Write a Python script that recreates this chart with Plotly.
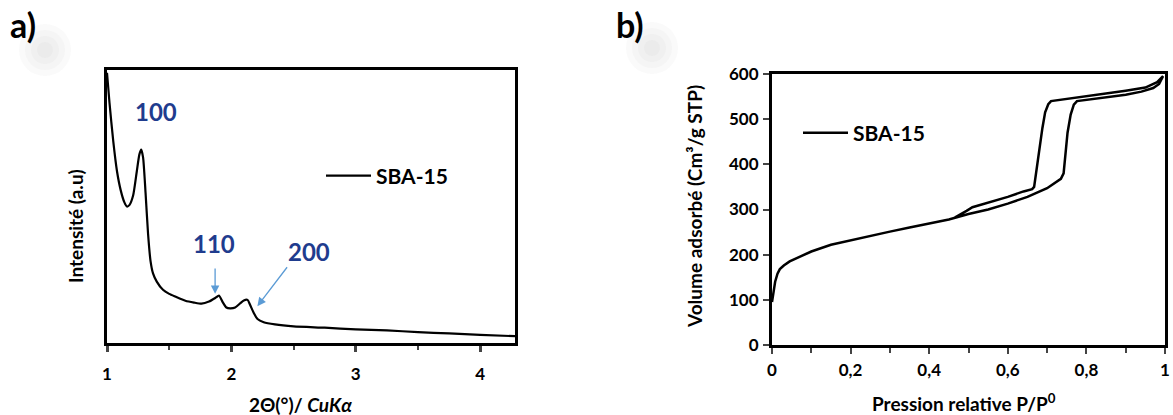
import plotly.graph_objects as go

# ---- Panel a) XRD low-angle pattern ----
two_theta = [1.00, 1.02, 1.05, 1.08, 1.11, 1.14, 1.16, 1.18, 1.21, 1.24, 1.26, 1.275, 1.29, 1.31,
             1.33, 1.35, 1.37, 1.40, 1.45, 1.50, 1.55, 1.63, 1.70, 1.76, 1.82, 1.87, 1.90, 1.93,
             1.96, 1.99, 2.03, 2.07, 2.10, 2.13, 2.15, 2.18, 2.21, 2.26, 2.35, 2.5, 2.75, 3.0,
             3.25, 3.5, 3.75, 4.0, 4.28]
intensity = [99, 88, 74, 63, 56, 51.5, 50, 50.5, 54, 63, 69, 70.8, 68, 55,
             40, 30, 25.5, 22.5, 19.5, 18, 17, 15.5, 14.8, 14.4, 15.2, 16.5, 17.4, 15,
             13, 12.7, 13, 14.5, 15.6, 15.8, 14, 11, 8.8, 7.6, 6.8, 6.1, 5.6, 5.0,
             4.6, 4.0, 3.5, 3.0, 2.5]
xrd_ticks = [1, 2, 3, 4]
peak_labels = ["100", "110", "200"]

# ---- Panel b) N2 isotherm ----
p_ads = [0.0, 0.004, 0.008, 0.014, 0.02, 0.03, 0.045, 0.07, 0.1, 0.15, 0.2, 0.25, 0.3, 0.35,
         0.4, 0.45, 0.5, 0.55, 0.6, 0.65, 0.7, 0.72, 0.735, 0.742, 0.746, 0.752, 0.76, 0.768,
         0.776, 0.8, 0.85, 0.9, 0.94, 0.97, 0.985, 0.995]
v_ads = [95, 120, 140, 158, 168, 176, 185, 195, 207, 222, 232, 242, 251, 260,
         269, 278, 290, 300, 313, 328, 347, 358, 368, 380, 420, 470, 510, 532,
         540, 543, 548, 554, 561, 569, 578, 595]
p_des = [0.995, 0.98, 0.95, 0.9, 0.85, 0.8, 0.75, 0.72, 0.71, 0.703, 0.695, 0.688, 0.682,
         0.676, 0.671, 0.667, 0.662, 0.64, 0.6, 0.55, 0.51, 0.495, 0.48, 0.465]
v_des = [595, 582, 570, 563, 557, 551, 546, 542, 540, 533, 515, 480, 440,
         400, 365, 350, 345, 340, 328, 315, 305, 297, 289, 282]
iso_x_ticks = [0, 0.2, 0.4, 0.6, 0.8, 1]
iso_x_text = ["0", "0,2", "0,4", "0,6", "0,8", "1"]
iso_y_ticks = [0, 100, 200, 300, 400, 500, 600]

W, H = 1173, 415
FONT = "Lato"
BLUE_TXT = "#1f3c8e"
BLUE_ARR = "#5b9bd5"


def px_x(px):
    return px / W


def px_y(py):
    return 1 - py / H


fig = go.Figure()

fig.add_trace(go.Scatter(x=two_theta, y=intensity, mode="lines", name="SBA-15",
                         line=dict(color="black", width=2.2, shape="spline", smoothing=0.6),
                         xaxis="x", yaxis="y", legend="legend"))
fig.add_trace(go.Scatter(x=p_ads + p_des, y=v_ads + v_des, mode="lines", name="SBA-15",
                         line=dict(color="black", width=2.5),
                         xaxis="x2", yaxis="y2", legend="legend2"))

axis_common = dict(showline=True, mirror=True, linewidth=3, linecolor="black",
                   showgrid=False, zeroline=False, automargin=False,
                   tickfont=dict(family=FONT, size=17, color="black", weight="bold"))

fig.update_layout(
    template="none",
    width=W, height=H,
    margin=dict(l=0, r=0, t=0, b=0, pad=0, autoexpand=False),
    paper_bgcolor="white", plot_bgcolor="white",
    font=dict(family=FONT, color="black"),
    xaxis=dict(domain=[px_x(107), px_x(515)], range=[1, 4.28], anchor="y",
               tickvals=xrd_ticks, ticks="outside", ticklen=6, tickwidth=3,
               ticklabelstandoff=8,
               minor=dict(dtick=0.5, ticks="outside", ticklen=4, tickwidth=2, tick0=1),
               **axis_common),
    yaxis=dict(domain=[px_y(343), px_y(70)], range=[0, 100], anchor="x",
               showticklabels=False, ticks="", **axis_common),
    xaxis2=dict(domain=[px_x(772), px_x(1165)], range=[0, 1], anchor="y2",
                tickvals=iso_x_ticks, ticktext=iso_x_text, ticks="outside", ticklen=6,
                tickwidth=2, ticklabelstandoff=2,
                minor=dict(dtick=0.1, ticks="outside", ticklen=5, tickwidth=2, tick0=0),
                **axis_common),
    yaxis2=dict(domain=[px_y(345), px_y(74)], range=[0, 600], anchor="x2",
                tickvals=iso_y_ticks, ticks="outside", ticklen=6, tickwidth=2,
                ticklabelstandoff=1, **axis_common),
    legend=dict(x=px_x(321), y=px_y(176), xanchor="left", yanchor="middle", itemwidth=45,
                bgcolor="rgba(0,0,0,0)", font=dict(family=FONT, size=21, weight="bold")),
    legend2=dict(x=px_x(798), y=px_y(133), xanchor="left", yanchor="middle", itemwidth=45,
                 bgcolor="rgba(0,0,0,0)", font=dict(family=FONT, size=21, weight="bold")),
    showlegend=True,
)

# faint grey blur next to the panel letters
shapes = []
for cx, cy in [(45, 50), (652, 48)]:
    for r in [26, 20, 14, 8]:
        shapes.append(dict(type="circle", xref="paper", yref="paper", layer="below",
                           x0=px_x(cx - r), x1=px_x(cx + r), y0=px_y(cy + r), y1=px_y(cy - r),
                           fillcolor="rgba(150,150,150,0.05)", line=dict(width=0)))
fig.update_layout(shapes=shapes)


def text_ann(x, y, text, size, color="black", xref="paper", yref="paper", angle=0):
    return dict(x=x, y=y, xref=xref, yref=yref, text=text, showarrow=False,
                xanchor="center", yanchor="middle", textangle=angle,
                font=dict(family=FONT, size=size, color=color))


ann = []
# peak labels
for lab, (xx, yy) in zip(peak_labels, [(1.395, 84.7), (1.864, 36.4), (2.62, 33.6)]):
    ann.append(text_ann(xx, yy, "<b>%s</b>" % lab, 24, BLUE_TXT, "x", "y"))
# arrows
ann.append(dict(x=1.869, y=18.0, ax=1.869, ay=27.8, xref="x", yref="y", axref="x", ayref="y",
                text="", showarrow=True, arrowhead=2, arrowsize=1.3, arrowwidth=1.3,
                arrowcolor=BLUE_ARR))
ann.append(dict(x=2.209, y=13.5, ax=2.457, ay=28.3, xref="x", yref="y", axref="x", ayref="y",
                text="", showarrow=True, arrowhead=2, arrowsize=1.3, arrowwidth=1.3,
                arrowcolor=BLUE_ARR))
# panel labels
ann.append(text_ann(px_x(23), px_y(25), "<b>a)</b>", 34))
ann.append(text_ann(px_x(630), px_y(24), "<b>b)</b>", 34))
# axis titles
ann.append(text_ann(px_x(75), px_y(226), "<b>Intensité (a.u)</b>", 19, angle=-90))
ann.append(text_ann(px_x(300), px_y(404), "<b>2Θ(°)/ <i>CuKα</i></b>", 19))
ann.append(text_ann(px_x(694), px_y(207), "<b>Volume adsorbé (Cm³/g STP)</b>", 19, angle=-90))
ann.append(text_ann(px_x(964), px_y(402), "<b>Pression relative P/P<sup>0</sup></b>", 19))
fig.update_layout(annotations=ann)

fig.write_html("out.html", config={"displayModeBar": False},
               post_script="document.body.style.margin='0px';document.body.style.padding='0px';")
